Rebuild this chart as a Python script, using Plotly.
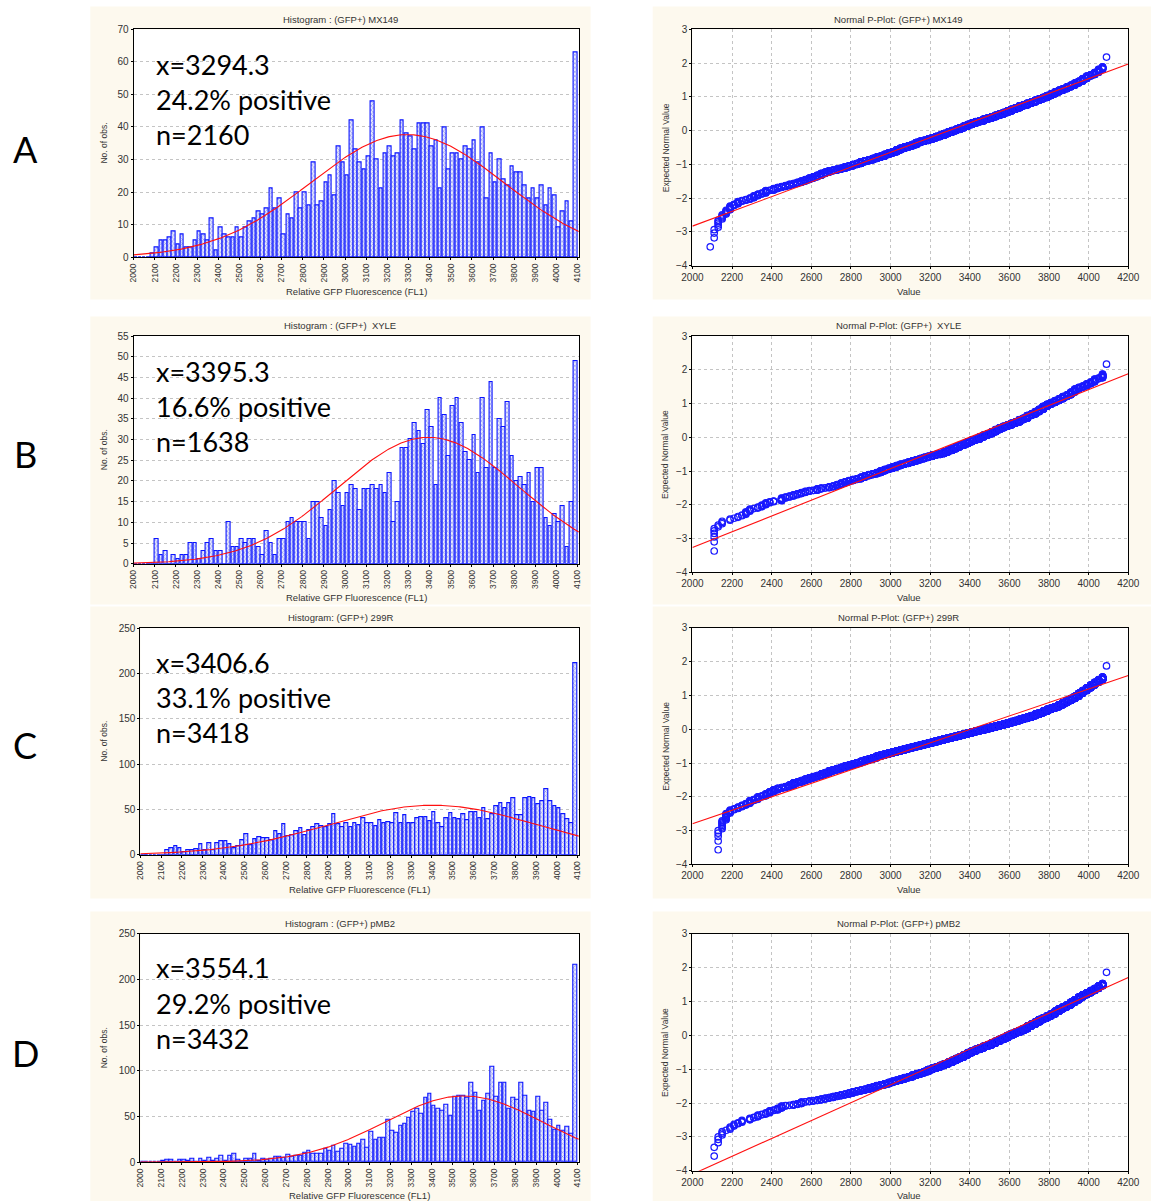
import plotly.graph_objects as go
from statistics import NormalDist

# ---------------- data ----------------
BIN_WIDTH = 20
bin_centers = [2010 + 20 * j for j in range(105)]   # bins 2000-2020 ... 4080-4100

counts_A = [0, 0, 0, 0, 1, 3, 5, 5, 6, 8,
            4, 7, 3, 3, 5, 8, 7, 5, 12, 2,
            9, 7, 6, 6, 9, 6, 9, 11, 12, 14,
            13, 15, 21, 15, 18, 7, 13, 12, 20, 15,
            20, 16, 29, 16, 17, 23, 25, 19, 34, 29,
            25, 42, 33, 29, 27, 31, 48, 30, 21, 32,
            34, 31, 32, 42, 38, 37, 33, 41, 41, 41,
            34, 36, 21, 40, 27, 32, 32, 30, 34, 33,
            36, 29, 40, 18, 32, 23, 30, 24, 22, 28,
            26, 26, 22, 18, 21, 18, 22, 16, 21, 19,
            9, 14, 17, 11, 63]

counts_B = [0, 0, 0, 0, 0, 6, 2, 3, 0, 2,
            1, 2, 2, 5, 5, 1, 3, 5, 6, 3,
            3, 0, 10, 4, 4, 6, 5, 6, 6, 4,
            2, 8, 5, 2, 6, 6, 10, 11, 10, 10,
            10, 6, 15, 15, 11, 9, 13, 20, 17, 14,
            17, 19, 18, 13, 18, 18, 19, 18, 19, 17,
            22, 10, 15, 28, 28, 30, 34, 32, 29, 37,
            33, 19, 40, 36, 26, 38, 40, 34, 27, 25,
            31, 22, 40, 23, 44, 23, 35, 33, 39, 26,
            20, 21, 19, 22, 15, 23, 23, 11, 9, 12,
            10, 14, 4, 15, 49]

counts_C = [0, 0, 0, 0, 0, 0, 5, 7, 10, 7,
            3, 5, 5, 6, 12, 5, 13, 5, 13, 15,
            15, 12, 7, 9, 16, 23, 11, 17, 19, 18,
            18, 16, 26, 23, 34, 21, 22, 26, 29, 22,
            27, 30, 34, 32, 31, 34, 45, 34, 31, 35,
            30, 35, 33, 40, 35, 35, 32, 38, 35, 36,
            35, 46, 35, 44, 35, 35, 40, 42, 42, 37,
            47, 35, 30, 40, 46, 40, 39, 45, 38, 47,
            47, 40, 51, 39, 45, 54, 57, 51, 57, 63,
            44, 44, 63, 64, 62, 56, 59, 72, 59, 54,
            51, 45, 39, 35, 211]

counts_D = [0, 0, 0, 0, 0, 2, 3, 3, 1, 3,
            3, 2, 4, 0, 4, 2, 5, 2, 4, 7,
            2, 7, 9, 3, 1, 4, 4, 9, 2, 4,
            3, 4, 6, 6, 5, 8, 6, 7, 7, 10,
            12, 9, 9, 9, 15, 12, 18, 11, 15, 20,
            19, 17, 20, 25, 16, 33, 25, 27, 27, 46,
            34, 32, 40, 42, 49, 55, 59, 53, 71, 75,
            62, 59, 56, 63, 51, 72, 73, 73, 71, 87,
            76, 56, 67, 75, 104, 72, 87, 87, 59, 70,
            68, 87, 73, 56, 55, 72, 56, 65, 46, 36,
            40, 34, 39, 31, 216]

row_letters = ["A", "B", "C", "D"]
hist_titles = ["Histogram : (GFP+) MX149", "Histogram : (GFP+)  XYLE",
               "Histogram: (GFP+) 299R", "Histogram : (GFP+) pMB2"]
pplot_titles = ["Normal P-Plot: (GFP+) MX149", "Normal P-Plot: (GFP+)  XYLE",
                "Normal P-Plot: (GFP+) 299R", "Normal P-Plot: (GFP+) pMB2"]
mean_labels = ["3294.3", "3395.3", "3406.6", "3554.1"]
positive_labels = ["24.2", "16.6", "33.1", "29.2"]
n_labels = ["2160", "1638", "3418", "3432"]
hist_ymax = [70, 55, 250, 250]
hist_dtick = [10, 5, 50, 50]
hist_xticks = list(range(2000, 4101, 100))
pplot_xticks = list(range(2000, 4201, 200))
pplot_yticks = list(range(-4, 4))

all_counts = [counts_A, counts_B, counts_C, counts_D]

# ---------------- layout geometry (target picture pixels) ----------------
# picture px = OFF + SCALE * figure px (measured from earlier renders)
OFF_X, SCALE_X = 10.75, 0.9796
OFF_Y, SCALE_Y = 5.6, 0.990
W, H = 1165, 1208
rows = [
    dict(cream=(6, 299), hist=(133.3, 578.3, 29, 256.7), pp=(691.7, 1127.3, 29, 265.3),
         title_y=19, xtitle_y=291, text_y=[64, 99, 134], letter_y=149),
    dict(cream=(316, 604), hist=(133.3, 578.3, 335.7, 563.3), pp=(691.7, 1127.3, 335.7, 572),
         title_y=325, xtitle_y=597, text_y=[371, 406, 441], letter_y=454),
    dict(cream=(606, 898), hist=(140, 578.3, 627.7, 854.3), pp=(691.7, 1127.3, 627.3, 864),
         title_y=617, xtitle_y=889, text_y=[662, 697, 732], letter_y=745),
    dict(cream=(911, 1201), hist=(140, 578.3, 933.3, 1161.7), pp=(691.7, 1127.3, 933.3, 1170.3),
         title_y=923, xtitle_y=1195, text_y=[967, 1003, 1038], letter_y=1053),
]


def fx(x):
    return min(max((x - OFF_X) / SCALE_X / W, 0), 1)


def fy(y):
    return min(max(1 - (y - OFF_Y) / SCALE_Y / H, 0), 1)


TXT = "#333333"
SANS = "Liberation Sans, Arial, sans-serif"
BIG = "Lato, Carlito, Calibri, sans-serif"
GRID = "#c4c4c4"

fig = go.Figure()
layout = {}
shapes = []
annotations = []
nd = NormalDist()


def note(text, x, y, size, font=SANS, color=TXT, angle=0, xanchor="center"):
    annotations.append(dict(text=text, x=fx(x), y=fy(y), xref="paper", yref="paper",
                            showarrow=False, textangle=angle, xanchor=xanchor,
                            yanchor="middle", font=dict(family=font, size=size, color=color)))


for i in range(4):
    r = rows[i]
    counts = all_counts[i]
    n_tot = sum(counts)
    mean = sum(c * x for c, x in zip(counts, bin_centers)) / n_tot
    var = sum(c * (x - mean) ** 2 for c, x in zip(counts, bin_centers)) / (n_tot - 1)
    sd = var ** 0.5

    hx = f"x{2 * i + 1}" if i else "x"
    hy = f"y{2 * i + 1}" if i else "y"
    px_ = f"x{2 * i + 2}"
    py_ = f"y{2 * i + 2}"
    hl, hr, ht, hb = r["hist"]
    pl, pr, pt, pb = r["pp"]

    # cream panels, then white plotting areas
    for (x0, x1) in [(90, 590), (652, 1151)]:
        shapes.append(dict(type="rect", xref="paper", yref="paper", layer="below",
                           x0=fx(x0), x1=fx(x1), y0=fy(r["cream"][1]), y1=fy(r["cream"][0]),
                           fillcolor="#fdf9ee", line=dict(width=0)))
    for (x0, x1, y0, y1) in [(hl, hr, ht, hb), (pl, pr, pt, pb)]:
        shapes.append(dict(type="rect", xref="paper", yref="paper", layer="below",
                           x0=fx(x0), x1=fx(x1), y0=fy(y1), y1=fy(y0),
                           fillcolor="white", line=dict(width=0)))

    # ---- histogram ----
    fig.add_trace(go.Bar(
        x=bin_centers, y=counts, xaxis=hx, yaxis=hy, width=BIN_WIDTH * 0.86,
        marker=dict(color="#c9cdf8", line=dict(color="#0a14ff", width=1.1),
                    pattern=dict(shape="x", fgcolor="#7880ee", bgcolor="#e6e8fc",
                                 size=3, solidity=0.3, fillmode="replace")),
        showlegend=False, hoverinfo="skip"))
    xs_fit = [2000 + 5 * k for k in range(422)]
    ys_fit = [n_tot * BIN_WIDTH * nd.pdf((x - mean) / sd) / sd for x in xs_fit]
    fig.add_trace(go.Scatter(x=xs_fit, y=ys_fit, xaxis=hx, yaxis=hy, mode="lines",
                             line=dict(color="#ff1010", width=1.1), showlegend=False,
                             hoverinfo="skip"))

    layout["xaxis" + ("" if i == 0 else str(2 * i + 1))] = dict(
        domain=[fx(hl), fx(hr)], anchor=hy, range=[2000, 4106],
        tickmode="array", tickvals=hist_xticks, ticktext=[str(v) for v in hist_xticks],
        tickangle=-90, tickfont=dict(family=SANS, size=8.5, color=TXT),
        showgrid=False, zeroline=False, showline=True, mirror=True,
        linecolor="black", linewidth=1, ticks="outside", ticklen=2, tickcolor="black")
    layout["yaxis" + ("" if i == 0 else str(2 * i + 1))] = dict(
        domain=[fy(hb), fy(ht)], anchor=hx, range=[0, hist_ymax[i]],
        dtick=hist_dtick[i], tick0=0, tickfont=dict(family=SANS, size=10, color=TXT),
        showgrid=True, gridcolor=GRID, griddash="dot", gridwidth=1, zeroline=False,
        showline=True, mirror=True, linecolor="black", linewidth=1,
        ticks="outside", ticklen=2, tickcolor="black")

    # ---- normal probability plot ----
    pts_x, pts_z = [], []
    rank = 0
    last = len(counts) - 1          # top bin = saturated channel, tied values
    for j, c in enumerate(counts):
        if c == 0:
            continue
        if j == last:
            rr = rank + (c + 1) / 2
            pts_x.append(bin_centers[j])
            pts_z.append(nd.inv_cdf((rr - 0.375) / (n_tot + 0.25)))
        else:
            for k in range(1, c + 1):
                rr = rank + k
                pts_x.append(bin_centers[j])
                pts_z.append(nd.inv_cdf((rr - 0.375) / (n_tot + 0.25)))
        rank += c
    fig.add_trace(go.Scatter(x=pts_x, y=pts_z, xaxis=px_, yaxis=py_, mode="markers",
                             marker=dict(symbol="circle-open", size=6.5, color="#1a1aff",
                                         line=dict(width=1.2)),
                             showlegend=False, hoverinfo="skip"))
    fig.add_trace(go.Scatter(x=[2000, 4200], y=[(2000 - mean) / sd, (4200 - mean) / sd],
                             xaxis=px_, yaxis=py_, mode="lines",
                             line=dict(color="#ff1010", width=1.1), showlegend=False,
                             hoverinfo="skip"))
    layout[f"xaxis{2 * i + 2}"] = dict(
        domain=[fx(pl), fx(pr)], anchor=py_, range=[2000, 4200],
        tickmode="array", tickvals=pplot_xticks, tickfont=dict(family=SANS, size=10, color=TXT),
        showgrid=True, gridcolor=GRID, griddash="dot", gridwidth=1, zeroline=False,
        showline=True, mirror=True, linecolor="black", linewidth=1,
        ticks="outside", ticklen=2, tickcolor="black")
    layout[f"yaxis{2 * i + 2}"] = dict(
        domain=[fy(pb), fy(pt)], anchor=px_, range=[-4, 3],
        tickmode="array", tickvals=pplot_yticks, tickfont=dict(family=SANS, size=10, color=TXT),
        showgrid=True, gridcolor=GRID, griddash="dot", gridwidth=1, zeroline=False,
        showline=True, mirror=True, linecolor="black", linewidth=1,
        ticks="outside", ticklen=2, tickcolor="black")

    # ---- texts ----
    note(hist_titles[i], 340, r["title_y"], 9.5)
    note(pplot_titles[i], 898, r["title_y"], 9.5)
    note("Relative GFP Fluorescence (FL1)", (hl + hr) / 2, r["xtitle_y"], 9.5)
    note("Value", 908, r["xtitle_y"], 9.5)
    note("No. of obs.", 104, (ht + hb) / 2, 8.5, angle=-90)
    note("Expected Normal Value", 665, (pt + pb) / 2, 8.5, angle=-90)
    big_lines = [f"x={mean_labels[i]}", f"{positive_labels[i]}% positive", f"n={n_labels[i]}"]
    for t, yy in zip(big_lines, r["text_y"]):
        note(t, 154, yy, 27, font=BIG, color="black", xanchor="left")
    note(row_letters[i], 25, r["letter_y"], 36, font=BIG, color="black")

fig.update_layout(width=W, height=H, margin=dict(l=0, r=0, t=0, b=0),
                  paper_bgcolor="white", plot_bgcolor="white", bargap=0,
                  shapes=shapes, annotations=annotations, **layout)
fig.write_html("out.html")
